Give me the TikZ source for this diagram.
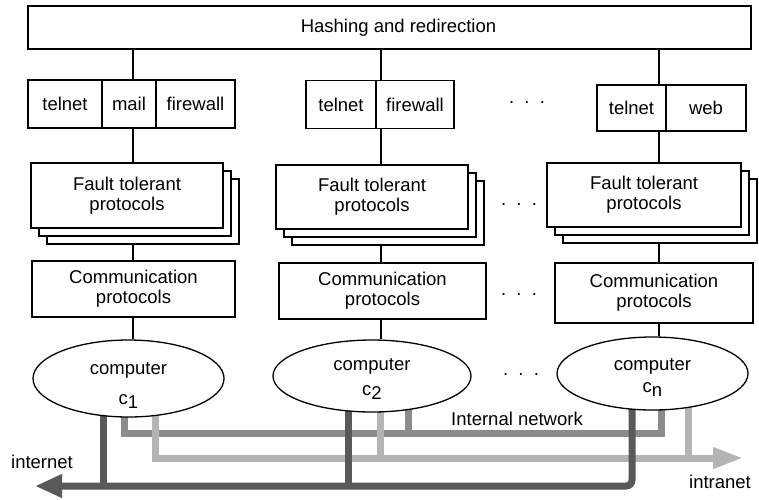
\documentclass[tikz,border=0pt]{standalone}
\usepackage{fontspec}
\setmainfont{Liberation Sans}
\usetikzlibrary{shapes.geometric,arrows.meta,shadows,backgrounds}

\definecolor{netdark}{HTML}{595959}
\definecolor{netlight}{HTML}{B4B4B4}
\definecolor{netint}{HTML}{8C8C8C}

\newcommand{\figfont}{\fontsize{18.5}{20}\selectfont}
\newcommand{\lowidx}[1]{\raisebox{-3.5pt}{#1}}

\begin{document}
\begin{tikzpicture}[
x=1pt,
y=-1pt,
box/.style={draw, line width=1.3pt, fill=white, inner sep=0pt, align=center, font=\figfont},
cell/.style={box, minimum height=48pt},
stackbox/.style={box,
  copy shadow={shadow xshift=16pt, shadow yshift=-16pt, fill=white, draw=black, line width=1.3pt},
  copy shadow={shadow xshift=8pt, shadow yshift=-8pt, fill=white, draw=black, line width=1.3pt}},
pc/.style={box, ellipse},
wire/.style={line width=1.3pt},
netd/.style={line width=7pt, draw=netdark},
netl/.style={line width=7pt, draw=netlight},
neti/.style={line width=7pt, draw=netint},
lbl/.style={font=\figfont, inner sep=0pt, align=center},
]

	\useasboundingbox (0,0) rectangle (759,499);

	%%%%%%%%%%%%%%%%%%%%%%%%%%%%
	%Verteilung oben
	%%%%%%%%%%%%%%%%%%%%%%%%%%%%

	\node [box, minimum width=723pt, minimum height=43pt] (hash) at (389.5,27.5) {\hspace*{18pt}Hashing and redirection};

	\coordinate (k1) at (133,0);
	\coordinate (k2) at (381,0);
	\coordinate (k3) at (659,0);

	% Dienste
	\node [cell, minimum width=74pt] (tel1) at (65,104) {telnet};
	\node [cell, minimum width=54pt] (mail1) at (129,104) {mail};
	\node [cell, minimum width=79pt] (fw1) at (195.5,104) {firewall};

	\node [cell, minimum width=70pt] (tel2) at (341,104.5) {telnet};
	\node [cell, minimum width=78pt] (fw2) at (415,104.5) {firewall};

	\node [cell, minimum width=69pt, minimum height=46pt] (tel3) at (631.5,108) {telnet};
	\node [cell, minimum width=80pt, minimum height=46pt] (web3) at (706,108) {web};

	% Fault tolerant
	\node [stackbox, minimum width=192pt, minimum height=65pt] (ft1) at (127,195.5) {Fault tolerant\\protocols};
	\node [stackbox, minimum width=192pt, minimum height=64pt] (ft2) at (372,197) {Fault tolerant\\protocols};
	\node [stackbox, minimum width=194pt, minimum height=64pt] (ft3) at (644,195) {Fault tolerant\\protocols};

	\coordinate (ft1b) at ([yshift=-16pt]ft1.south);
	\coordinate (ft2b) at ([yshift=-16pt]ft2.south);
	\coordinate (ft3b) at ([yshift=-16pt]ft3.south);

	% Kommunikation
	\node [box, minimum width=203pt, minimum height=56pt] (cp1) at (133.5,289) {Communication\\protocols};
	\node [box, minimum width=207pt, minimum height=56pt] (cp2) at (382.5,291) {Communication\\protocols};
	\node [box, minimum width=198pt, minimum height=60pt] (cp3) at (654,293) {Communication\\protocols};

	% Rechner
	\node [pc, minimum width=191pt, minimum height=77pt] (pc1) at (128.5,378.5) {};
	\node [pc, minimum width=198pt, minimum height=72pt] (pc2) at (372,376) {};
	\node [pc, minimum width=191pt, minimum height=73pt] (pc3) at (652.5,373.5) {};
	\node [lbl] (pc1txt) at ([yshift=-7pt]pc1.center) {computer\\[10pt]c\lowidx{1}};
	\node [lbl] (pc2txt) at ([yshift=-3pt]pc2.center) {computer\\[5pt]c\lowidx{2}};
	\node [lbl] (pc3txt) at ([yshift=-4pt]pc3.center) {computer\\[2pt]c\lowidx{n}};

	% Punkte
	\node [lbl] (dots1) at (527,103) {.\ \ .\ \ .};
	\node [lbl] (dots2) at (519,205) {.\ \ .\ \ .};
	\node [lbl] (dots3) at (519,295) {.\ \ .\ \ .};
	\node [lbl] (dots4) at (521,375) {.\ \ .\ \ .};

	% Verbindungen
	\draw [wire] (hash.south -| k1) -- (k1 |- mail1.north);
	\draw [wire] (k1 |- mail1.south) -- (k1 |- ft1.north);
	\draw [wire] (ft1b -| k1) -- (k1 |- cp1.north);
	\draw [wire] (k1 |- cp1.south) -- (k1 |- pc1.north);

	\draw [wire] (hash.south -| k2) -- (k2 |- fw2.north);
	\draw [wire] (k2 |- fw2.south) -- (k2 |- ft2.north);
	\draw [wire] (ft2b -| k2) -- (k2 |- cp2.north);
	\draw [wire] (k2 |- cp2.south) -- (k2 |- pc2.north);

	\draw [wire] (hash.south -| k3) -- (k3 |- tel3.north);
	\draw [wire] (k3 |- tel3.south) -- (k3 |- ft3.north);
	\draw [wire] (ft3b -| k3) -- (k3 |- cp3.north);
	\draw [wire] (k3 |- cp3.south) -- (k3 |- pc3.north);

	%%%%%%%%%%%%%%%%%%%%%%%%%%%%
	%Netze
	%%%%%%%%%%%%%%%%%%%%%%%%%%%%

	\coordinate (n1) at (124,0);
	\coordinate (n2) at (408,0);
	\coordinate (n3) at (661,0);
	\coordinate (l1) at (155,0);
	\coordinate (l2) at (380,0);
	\coordinate (l3) at (688,0);
	\coordinate (d1) at (103,0);
	\coordinate (d2) at (348,0);
	\coordinate (d3) at (632,0);
	\coordinate (inty) at (0,433);
	\coordinate (intraend) at (743,458);
	\coordinate (inetend) at (35,486);

	\begin{scope}[on background layer]
		\draw [neti] (pc1.center -| n1) |- (n3 |- inty) -- (pc3.center -| n3);
		\draw [neti] (pc2.center -| n2) -- (n2 |- inty);

		\draw [netl, -{Triangle[length=30pt, width=20pt]}] (pc1.center -| l1) |- (intraend);
		\draw [netl] (pc2.center -| l2) -- (l2 |- intraend);
		\draw [netl] (pc3.center -| l3) -- (l3 |- intraend);

		\draw [netd, rounded corners=6pt, -{Triangle[length=27pt, width=22pt]}] (pc3.center -| d3) |- (inetend);
		\draw [netd] (pc1.center -| d1) -- (d1 |- inetend);
		\draw [netd] (pc2.center -| d2) -- (d2 |- inetend);
	\end{scope}

	\node [lbl] (lblint) at (517,419) {Internal network};
	\node [lbl] (lblinet) at (42,461.5) {internet};
	\node [lbl] (lblintra) at (720,481.5) {intranet};

\end{tikzpicture}
\end{document}
